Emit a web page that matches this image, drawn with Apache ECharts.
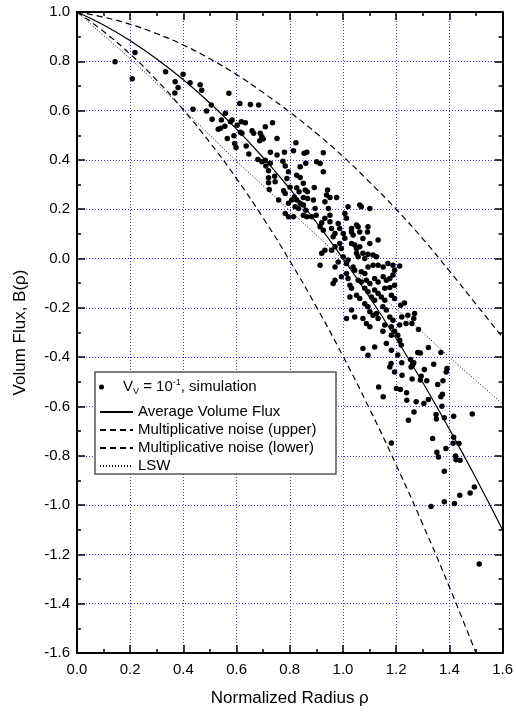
<!DOCTYPE html>
<html>
<head>
<meta charset="utf-8">
<script src="https://cdn.jsdelivr.net/npm/echarts@6/dist/echarts.min.js"></script>
<style>
html, body { margin: 0; padding: 0; background: #fff; }
#chart { width: 516px; height: 713px; }
</style>
</head>
<body>
<div id="chart"></div>
<script>
// radius grid for the curves
const rhoSteps = [0, 0.1, 0.2, 0.3, 0.4, 0.5, 0.6, 0.7, 0.8, 0.9, 1.0, 1.1, 1.2, 1.3, 1.4, 1.5, 1.6];
const avgFlux = [1.000, 0.947, 0.883, 0.809, 0.725, 0.630, 0.525, 0.409, 0.283, 0.147, 0.000, -0.157, -0.325, -0.503, -0.692, -0.891, -1.100];
const upperNoise = [1.000, 0.979, 0.950, 0.912, 0.866, 0.810, 0.746, 0.673, 0.594, 0.508, 0.414, 0.310, 0.200, 0.080, -0.050, -0.185, -0.320];
const lowerNoise = [1.000, 0.921, 0.829, 0.723, 0.603, 0.470, 0.324, 0.164, -0.009, -0.196, -0.396, -0.610, -0.837, -1.078, -1.332, -1.600];
const lswFlux = [1.000, 0.905, 0.810, 0.710, 0.605, 0.500, 0.395, 0.295, 0.195, 0.095, -0.005, -0.105, -0.205, -0.300, -0.400, -0.495, -0.590];

// simulation points [rho, B]
const simPoints = [
    [0.143,0.798],[0.218,0.836],[0.208,0.729],[0.333,0.758],[0.369,0.717],[0.368,0.671],[0.380,0.694],[0.399,0.748],
    [0.425,0.713],[0.463,0.705],[0.469,0.683],[0.571,0.670],
    [0.436,0.606],[0.505,0.623],[0.487,0.598],[0.558,0.589],[0.612,0.629],[0.652,0.625],[0.683,0.623],[0.508,0.565],
    [0.543,0.562],[0.577,0.555],[0.583,0.562],[0.618,0.555],[0.633,0.551],[0.602,0.541],[0.708,0.535],[0.735,0.551],
    [0.531,0.524],[0.540,0.528],[0.556,0.537],[0.590,0.498],[0.565,0.487],[0.614,0.512],[0.620,0.508],[0.658,0.518],
    [0.664,0.508],[0.689,0.508],[0.695,0.494],[0.687,0.478],[0.752,0.487],[0.593,0.467],[0.598,0.450],[0.636,0.456],
    [0.700,0.485],[0.823,0.470],[0.646,0.424],[0.727,0.431],[0.752,0.420],[0.780,0.431],[0.814,0.437],[0.854,0.427],
    [0.864,0.431],[0.680,0.402],[0.695,0.393],[0.708,0.399],[0.727,0.386],[0.710,0.375],[0.774,0.395],[0.783,0.375],
    [0.860,0.386],[0.901,0.393],[0.720,0.356],[0.795,0.352],[0.839,0.372],[0.720,0.328],[0.743,0.334],[0.720,0.307],
    [0.745,0.311],[0.789,0.325],[0.826,0.338],[0.839,0.329],[0.723,0.280],[0.777,0.275],[0.783,0.264],[0.801,0.289],
    [0.826,0.287],[0.835,0.271],[0.858,0.278],[0.866,0.271],[0.851,0.305],[0.892,0.288],[0.758,0.237],[0.795,0.224],
    [0.807,0.237],[0.817,0.250],[0.826,0.237],[0.839,0.224],[0.851,0.248],[0.867,0.244],[0.820,0.210],[0.833,0.203],
    [0.851,0.217],[0.860,0.196],[0.851,0.176],[0.864,0.169],[0.889,0.237],[0.895,0.203],[0.899,0.176],[0.882,0.169],
    [0.783,0.183],[0.795,0.169],[0.814,0.169],
    [0.914,0.385],[0.926,0.352],[0.926,0.429],[0.942,0.278],[0.938,0.258],[0.951,0.248],[0.976,0.248],
    [0.932,0.230],[0.945,0.203],[0.951,0.176],[0.932,0.163],[0.920,0.145],[0.914,0.129],[0.926,0.115],[0.951,0.149],
    [0.957,0.122],[0.982,0.142],[0.988,0.122],[1.007,0.183],[1.013,0.163],[1.019,0.210],[1.063,0.217],[1.069,0.210],
    [1.101,0.203],[0.970,0.102],[0.963,0.088],[1.001,0.102],[1.007,0.082],[1.032,0.108],[1.038,0.095],[1.057,0.129],
    [1.063,0.108],[1.051,0.136],[1.032,0.122],[1.094,0.129],[1.092,0.108],[1.132,0.075],[1.075,0.081],[0.988,0.061],
    [0.994,0.041],[0.970,0.048],[0.957,0.034],[0.932,0.034],[0.920,0.021],[1.032,0.061],[1.044,0.055],[1.051,0.041],
    [1.063,0.048],[1.101,0.061],[1.075,0.021],[1.082,0.000],[1.051,0.021],[1.057,0.007],[1.094,0.017],[1.113,0.014],
    [1.126,0.007],[1.019,-0.006],[1.013,-0.020],[0.982,-0.014],[0.970,-0.034],[1.001,0.007],[0.914,-0.027],[1.038,-0.034],
    [1.044,-0.047],[1.069,-0.054],[1.082,-0.061],[1.094,-0.034],[1.113,-0.027],[1.132,-0.027],[1.151,-0.034],[1.169,-0.020],
    [1.188,-0.027],[1.013,-0.061],[1.019,-0.081],[0.994,-0.074],[0.970,-0.088],[0.963,-0.101],[1.026,-0.108],[1.032,-0.121],
    [1.057,-0.088],[1.069,-0.095],[1.088,-0.088],[1.101,-0.101],[1.119,-0.081],[1.132,-0.095],[1.151,-0.074],[1.163,-0.088],
    [1.176,-0.081],[1.194,-0.047],[1.188,-0.067],[1.157,-0.121],[1.176,-0.117],[1.194,-0.108],[1.082,-0.121],[1.094,-0.135],
    [1.119,-0.128],[1.132,-0.142],[1.051,-0.149],[1.063,-0.162],[1.026,-0.156],[1.107,-0.156],[1.119,-0.169],[1.144,-0.156],
    [1.157,-0.169],[1.182,-0.149],[1.194,-0.162],[1.082,-0.183],[1.094,-0.196],[1.032,-0.209],[1.013,-0.243],[1.044,-0.237],
    [1.075,-0.243],[1.101,-0.216],[1.113,-0.230],[1.126,-0.223],[1.132,-0.243],[1.150,-0.196],[1.163,-0.209],[1.176,-0.237],
    [1.188,-0.250],[1.088,-0.263],[1.101,-0.277],[1.157,-0.270],[1.182,-0.277],
    [1.150,-0.295],[1.194,-0.295],[1.182,-0.311],[1.163,-0.345],[1.075,-0.365],[1.094,-0.392],[1.119,-0.359],[1.182,-0.372],
    [1.181,-0.426],[1.176,-0.440],[1.194,-0.460],[1.134,-0.521],[1.151,-0.561],[1.201,-0.527],[1.213,-0.030],
    [1.231,-0.180],[1.217,-0.189],[1.244,-0.230],[1.269,-0.223],[1.266,-0.243],[1.259,-0.263],[1.237,-0.263],[1.213,-0.270],
    [1.221,-0.237],[1.284,-0.288],[1.206,-0.311],[1.213,-0.331],[1.219,-0.351],[1.321,-0.361],[1.281,-0.381],[1.291,-0.383],
    [1.368,-0.381],[1.206,-0.391],[1.254,-0.410],[1.221,-0.423],[1.266,-0.423],[1.262,-0.432],[1.256,-0.440],[1.341,-0.429],
    [1.391,-0.446],[1.388,-0.460],[1.306,-0.450],[1.222,-0.473],[1.294,-0.477],[1.291,-0.493],[1.260,-0.489],[1.315,-0.496],
    [1.376,-0.496],[1.356,-0.511],[1.216,-0.531],[1.239,-0.544],[1.368,-0.561],[1.374,-0.550],[1.240,-0.575],[1.275,-0.581],
    [1.304,-0.588],[1.321,-0.572],[1.372,-0.599],[1.267,-0.622],[1.246,-0.656],[1.350,-0.633],[1.351,-0.651],[1.381,-0.646],
    [1.416,-0.640],[1.486,-0.631],
    [1.182,-0.748],[1.337,-0.730],[1.416,-0.725],[1.414,-0.749],[1.436,-0.750],[1.353,-0.786],[1.359,-0.805],[1.387,-0.771],
    [1.423,-0.801],[1.425,-0.816],[1.440,-0.818],[1.381,-0.863],[1.439,-0.960],[1.478,-0.951],[1.494,-0.927],[1.331,-1.006],
    [1.381,-0.987],[1.419,-0.994],[1.512,-1.239]
];

const xTicks = { min: 0, max: 1.6, interval: 0.2 };
const yTicks = { min: -1.6, max: 1.0, interval: 0.2 };

const FONT = 'Liberation Sans, Arial, sans-serif';
const pair = (ys) => ys.map((y, i) => [rhoSteps[i], y]);
const fmt = (v) => (Math.abs(v) < 1e-9 ? '0.0' : v.toFixed(1));

const frame = (extra) => Object.assign({
    type: 'value',
    axisLine: { show: true, onZero: false, lineStyle: { color: '#000', width: 2 } },
    axisTick: { show: true, inside: true, length: 8, lineStyle: { color: '#000', width: 1.5 } },
    minorTick: { show: true, splitNumber: 2, length: 4, lineStyle: { color: '#000', width: 1.5 } },
    splitLine: { show: false },
    axisLabel: { show: false }
}, extra);

const gridDots = { show: true, lineStyle: { color: '#3a3aff', width: 1, type: [1, 2] } };

const chart = echarts.init(document.getElementById('chart'));
chart.setOption({
    backgroundColor: '#fff',
    animation: false,
    grid: { left: 77, right: 11, top: 12, bottom: 60 },
    xAxis: [
        frame(Object.assign({}, xTicks, {
            position: 'bottom',
            name: 'Normalized Radius ρ',
            nameLocation: 'middle',
            nameGap: 37,
            nameTextStyle: { fontFamily: FONT, fontSize: 17, color: '#000' },
            axisLabel: { show: true, margin: 9, fontFamily: FONT, fontSize: 15, color: '#000', formatter: fmt },
            splitLine: gridDots
        })),
        frame(Object.assign({}, xTicks, { position: 'top' }))
    ],
    yAxis: [
        frame(Object.assign({}, yTicks, {
            position: 'left',
            name: 'Volum Flux, B(ρ)',
            nameLocation: 'middle',
            nameGap: 48,
            nameTextStyle: { fontFamily: FONT, fontSize: 17, color: '#000' },
            axisLabel: { show: true, margin: 7, fontFamily: FONT, fontSize: 15, color: '#000', formatter: fmt },
            splitLine: gridDots
        })),
        frame(Object.assign({}, yTicks, { position: 'right' }))
    ],
    graphic: [{
        type: 'rect',
        z: 3,
        shape: { x: 95, y: 372, width: 241, height: 102 },
        style: { fill: '#fff', stroke: '#555', lineWidth: 1.5 }
    }],
    legend: [{
        data: ['sim'],
        left: 94,
        top: 373,
        orient: 'vertical',
        itemWidth: 33,
        itemHeight: 5,
        selectedMode: false,
        formatter: () => '{n|V}{sub|V}{n| = 10}{sup|-1}{n|, simulation}',
        textStyle: {
            fontFamily: FONT, fontSize: 15, color: '#000',
            rich: {
                n: { fontFamily: FONT, fontSize: 15, lineHeight: 18, color: '#000' },
                sub: { fontFamily: FONT, fontSize: 9, lineHeight: 9, verticalAlign: 'bottom', color: '#000' },
                sup: { fontFamily: FONT, fontSize: 9, lineHeight: 9, verticalAlign: 'top', color: '#000' }
            }
        }
    }, {
        data: ['Average Volume Flux', 'Multiplicative noise (upper)', 'Multiplicative noise (lower)', 'LSW'],
        left: 94,
        top: 399,
        orient: 'vertical',
        itemWidth: 33,
        itemHeight: 12,
        itemGap: 2,
        selectedMode: false,
        itemStyle: { color: 'rgba(0,0,0,0)', borderWidth: 0, opacity: 0 },
        textStyle: { fontFamily: FONT, fontSize: 15, lineHeight: 16, color: '#000' }
    }],
    series: [
        {
            name: 'sim',
            type: 'scatter',
            data: simPoints,
            symbol: 'circle',
            symbolSize: 5.5,
            itemStyle: { color: '#000', opacity: 1 },
            z: 5
        },
        {
            name: 'Average Volume Flux',
            type: 'line',
            data: pair(avgFlux),
            smooth: true,
            symbol: 'none',
            itemStyle: { color: '#000' },
            lineStyle: { color: '#000', width: 1.2, type: 'solid' }
        },
        {
            name: 'Multiplicative noise (upper)',
            type: 'line',
            data: pair(upperNoise),
            smooth: true,
            symbol: 'none',
            itemStyle: { color: '#000' },
            lineStyle: { color: '#000', width: 1.2, type: [6, 4] }
        },
        {
            name: 'Multiplicative noise (lower)',
            type: 'line',
            data: pair(lowerNoise),
            smooth: true,
            symbol: 'none',
            itemStyle: { color: '#000' },
            lineStyle: { color: '#000', width: 1.2, type: [6, 4] }
        },
        {
            name: 'LSW',
            type: 'line',
            data: pair(lswFlux),
            smooth: true,
            symbol: 'none',
            itemStyle: { color: '#000' },
            lineStyle: { color: '#000', width: 1, type: [1, 2] }
        }
    ]
});
</script>
</body>
</html>
